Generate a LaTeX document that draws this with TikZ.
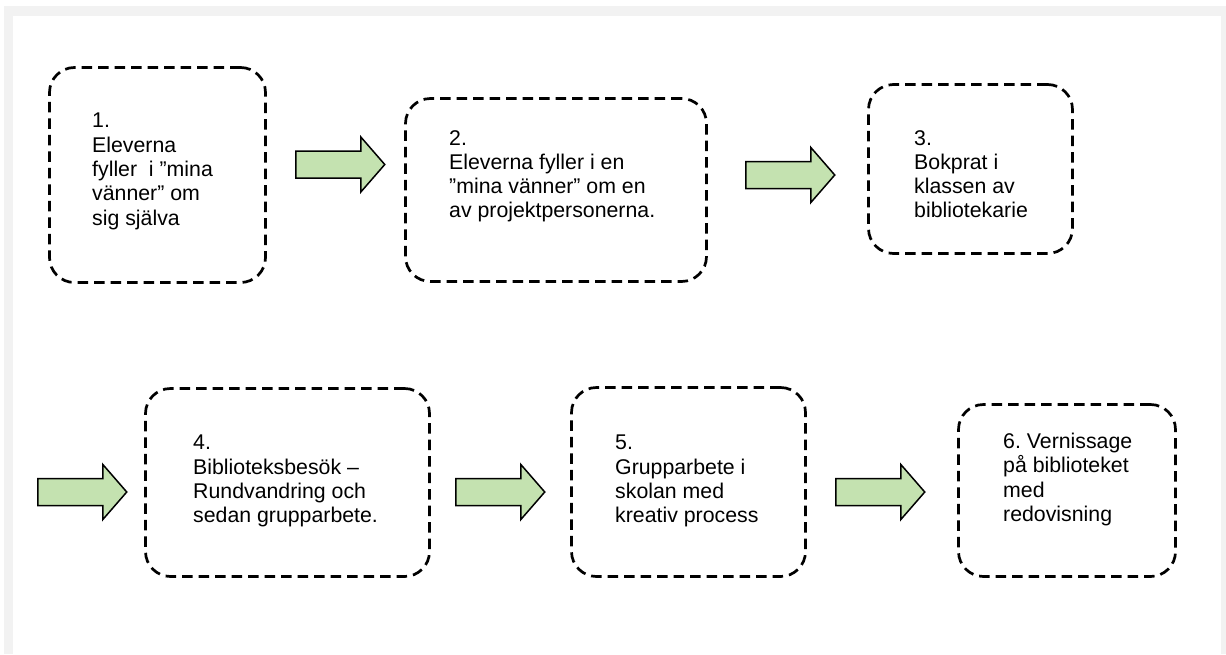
\documentclass[tikz,border=0pt]{standalone}
\usepackage{fontspec}
\setmainfont{Liberation Sans}
\usetikzlibrary{shapes.arrows}
\definecolor{framegray}{RGB}{242,242,242}
\definecolor{arrowgreen}{RGB}{196,226,176}

\begin{document}
\begin{tikzpicture}[x=1pt, y=-1pt,
                stepbox/.style={draw, line width=2.7pt, dash pattern=on 10.5pt off 6pt, rounded corners=25pt, inner sep=0pt},
                steptext/.style={anchor=north west, align=left, inner sep=0pt, font=\fontsize{21.3}{24.3}\selectfont\frenchspacing},
                flowarrow/.style={single arrow, draw, fill=arrowgreen, line width=1.5pt, inner sep=12.75pt,
                    minimum height=89pt, single arrow head extend=14pt, single arrow tip angle=98, anchor=tail}]
                \useasboundingbox (0,0) rectangle (1226,654);
                \fill[framegray] (4,6) rectangle (1226,654);
                \fill[white] (13,16) rectangle (1221,654);
                % first row
                \node[stepbox, minimum width=216pt, minimum height=215pt] (box1) at (157.5,175) {};
                \node[steptext] (txt1) at (92,113) {1.\\Eleverna\\fyller\ \ i ”mina\\vänner” om\\sig själva};
                \node[stepbox, minimum width=301pt, minimum height=183pt] (box2) at (556,190) {};
                \node[steptext] (txt2) at (449,130) {2.\\Eleverna fyller i en\\”mina vänner” om en\\av projektpersonerna.};
                \node[stepbox, minimum width=204pt, minimum height=169pt] (box3) at (970.5,169) {};
                \node[steptext] (txt3) at (914,130) {3.\\Bokprat i\\klassen av\\bibliotekarie};
                \node[flowarrow] (arr1) at (295,164.5) {};
                \node[flowarrow] (arr2) at (745,175) {};
                % second row
                \node[stepbox, minimum width=284pt, minimum height=188pt] (box4) at (287.5,482.5) {};
                \node[steptext] (txt4) at (193,435) {4.\\Biblioteksbesök –\\Rundvandring och\\sedan grupparbete.};
                \node[stepbox, minimum width=234pt, minimum height=189pt] (box5) at (688.5,482) {};
                \node[steptext] (txt5) at (615,435) {5.\\Grupparbete i\\skolan med\\kreativ process};
                \node[stepbox, minimum width=217pt, minimum height=172pt] (box6) at (1067,490.5) {};
                \node[steptext] (txt6) at (1003,433) {6. Vernissage\\på biblioteket\\med\\redovisning};
                \node[flowarrow] (arr3) at (37,492) {};
                \node[flowarrow] (arr4) at (455,492) {};
                \node[flowarrow] (arr5) at (835,492) {};
            \end{tikzpicture}
\end{document}
